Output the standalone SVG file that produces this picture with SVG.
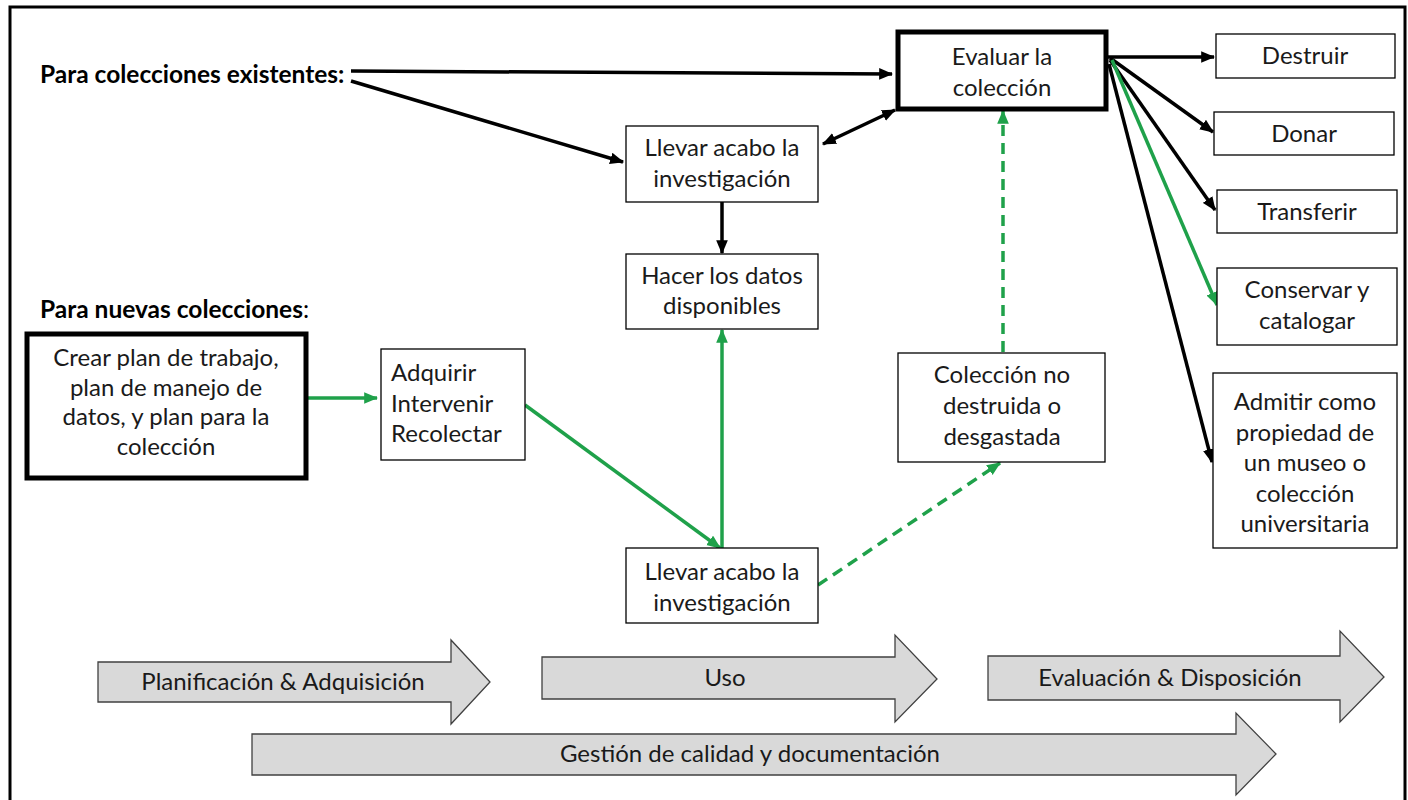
<svg xmlns="http://www.w3.org/2000/svg" width="1408" height="800" viewBox="0 0 1408 800">
<style>
.box{fill:#fff;stroke:#000;stroke-width:1.3}
.thick{fill:#fff;stroke:#000;stroke-width:5}
.t{font-family:Lato,"Liberation Sans",sans-serif;font-size:24px;fill:#1a1a1a}
.c{text-anchor:middle}
.h{font-family:Lato,"Liberation Sans",sans-serif;font-size:24.5px;font-weight:bold;fill:#000}
.blk{stroke:#000;stroke-width:3.5;fill:none}
.grn{stroke:#1fa14a;stroke-width:3.5;fill:none}
.dash{stroke-dasharray:11 7}
.phase{fill:#d9d9d9;stroke:#404040;stroke-width:1.3}
</style>
<defs>
<marker id="ab" viewBox="0 0 12 10" refX="11" refY="5" markerWidth="14" markerHeight="12" markerUnits="userSpaceOnUse" orient="auto-start-reverse"><path d="M0,0 L12,5 L0,10 Z" fill="#000"/></marker>
<marker id="ag" viewBox="0 0 12 10" refX="11" refY="5" markerWidth="14" markerHeight="12" markerUnits="userSpaceOnUse" orient="auto-start-reverse"><path d="M0,0 L12,5 L0,10 Z" fill="#1fa14a"/></marker>
</defs>
<rect width="1408" height="800" fill="#fff"/>
<rect x="10" y="7" width="1395" height="810" fill="none" stroke="#000" stroke-width="3"/>

<g id="label-existentes"><text class="h" x="40" y="83">Para colecciones existentes:</text></g>
<g id="label-nuevas"><text class="h" x="40" y="318">Para nuevas colecciones<tspan font-weight="normal">:</tspan></text></g>

<g id="connectors">
<line class="blk" x1="351" y1="71" x2="892" y2="74" marker-end="url(#ab)"/>
<line class="blk" x1="351" y1="81" x2="623" y2="162" marker-end="url(#ab)"/>
<line class="blk" x1="823" y1="144" x2="895" y2="110" marker-start="url(#ab)" marker-end="url(#ab)"/>
<line class="blk" x1="722" y1="202" x2="722" y2="253" marker-end="url(#ab)"/>
<line class="grn" x1="722" y1="548" x2="722" y2="330" marker-end="url(#ag)"/>
<line class="grn" x1="307" y1="398" x2="377" y2="398" marker-end="url(#ag)"/>
<line class="grn" x1="525" y1="405" x2="720" y2="548" marker-end="url(#ag)"/>
<line class="grn dash" x1="818" y1="585" x2="1000" y2="463" marker-end="url(#ag)"/>
<line class="grn dash" x1="1003" y1="352" x2="1003" y2="111" marker-end="url(#ag)"/>
<line class="blk" x1="1108" y1="57" x2="1214" y2="57" marker-end="url(#ab)"/>
<line class="blk" x1="1110" y1="58" x2="1213" y2="132" marker-end="url(#ab)"/>
<line class="blk" x1="1110" y1="60" x2="1215" y2="210" marker-end="url(#ab)"/>
<line class="grn" x1="1112" y1="60" x2="1217" y2="305" marker-end="url(#ag)"/>
<line class="blk" x1="1109" y1="64" x2="1212" y2="462" marker-end="url(#ab)"/>
</g>

<g id="n-evaluar"><rect class="thick" x="898" y="32" width="208" height="77"/>
<text class="t c" x="1002" y="65">Evaluar la</text><text class="t c" x="1002" y="96">colección</text></g>

<g id="n-destruir"><rect class="box" x="1216" y="34" width="179" height="44"/><text class="t c" x="1305" y="64">Destruir</text></g>
<g id="n-donar"><rect class="box" x="1214" y="112" width="180" height="43"/><text class="t c" x="1304" y="142">Donar</text></g>
<g id="n-transferir"><rect class="box" x="1217" y="190" width="180" height="43"/><text class="t c" x="1307" y="220">Transferir</text></g>
<g id="n-conservar"><rect class="box" x="1217" y="268" width="180" height="77"/>
<text class="t c" x="1307" y="298">Conservar y</text><text class="t c" x="1307" y="329">catalogar</text></g>
<g id="n-admitir"><rect class="box" x="1213" y="373" width="184" height="175"/>
<text class="t c" x="1305" y="410">Admitir como</text><text class="t c" x="1305" y="441">propiedad de</text><text class="t c" x="1305" y="471">un museo o</text><text class="t c" x="1305" y="502">colección</text><text class="t c" x="1305" y="532">universitaria</text></g>

<g id="n-llevar1"><rect class="box" x="626" y="126" width="192" height="76"/>
<text class="t c" x="722" y="156">Llevar acabo la</text><text class="t c" x="722" y="187">investigación</text></g>
<g id="n-hacer"><rect class="box" x="626" y="254" width="192" height="75"/>
<text class="t c" x="722" y="284">Hacer los datos</text><text class="t c" x="722" y="314">disponibles</text></g>
<g id="n-coleccion"><rect class="box" x="898" y="353" width="207" height="109"/>
<text class="t c" x="1002" y="383">Colección no</text><text class="t c" x="1002" y="414">destruida o</text><text class="t c" x="1002" y="445">desgastada</text></g>
<g id="n-llevar2"><rect class="box" x="626" y="548" width="192" height="75"/>
<text class="t c" x="722" y="580">Llevar acabo la</text><text class="t c" x="722" y="611">investigación</text></g>

<g id="n-crear"><rect class="thick" x="27" y="334" width="279" height="144"/>
<text class="t c" x="166" y="366">Crear plan de trabajo,</text><text class="t c" x="166" y="396">plan de manejo de</text><text class="t c" x="166" y="425">datos, y plan para la</text><text class="t c" x="166" y="455">colección</text></g>
<g id="n-adquirir"><rect class="box" x="381" y="349" width="144" height="111"/>
<text class="t" x="391" y="381">Adquirir</text><text class="t" x="391" y="412">Intervenir</text><text class="t" x="391" y="442">Recolectar</text></g>

<g id="p-planificacion"><path class="phase" d="M98,662 H451 V640 L490,682 L451,724 V702 H98 Z"/>
<text class="t c" x="283" y="690">Planificación &amp; Adquisición</text></g>
<g id="p-uso"><path class="phase" d="M542,657 H895 V635 L937,679 L895,722 V699 H542 Z"/>
<text class="t c" x="725" y="686">Uso</text></g>
<g id="p-evaluacion"><path class="phase" d="M988,656 H1340 V631 L1384,677 L1340,722 V700 H988 Z"/>
<text class="t c" x="1170" y="686">Evaluación &amp; Disposición</text></g>
<g id="p-gestion"><path class="phase" d="M252,734 H1236 V713 L1276,754 L1236,795 V775 H252 Z"/>
<text class="t c" x="750" y="762">Gestión de calidad y documentación</text></g>
</svg>
